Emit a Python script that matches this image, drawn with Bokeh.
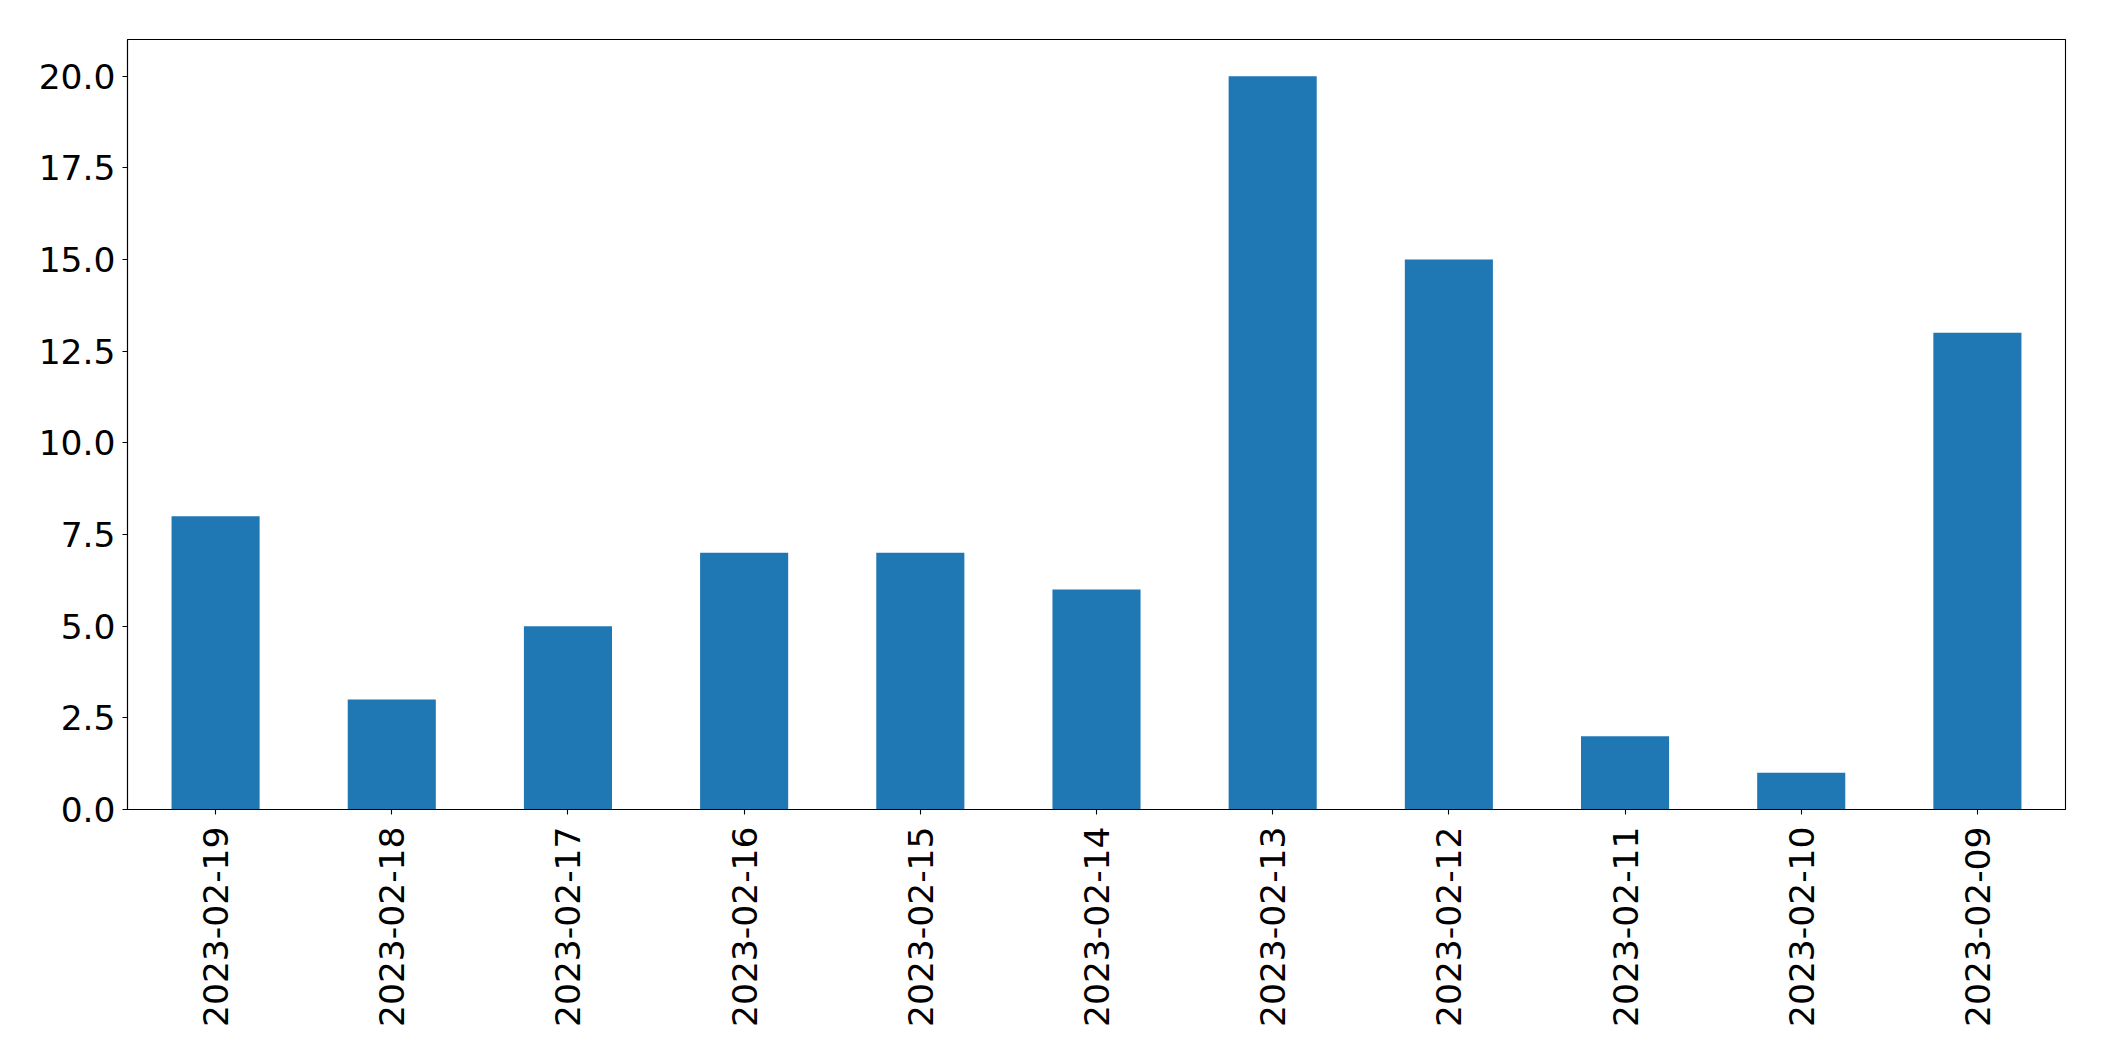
import math
from bokeh.plotting import figure
from bokeh.models import FixedTicker, NumeralTickFormatter, Range1d
from bokeh.embed import file_html
from bokeh.resources import INLINE

dates = ["2023-02-19", "2023-02-18", "2023-02-17", "2023-02-16", "2023-02-15",
         "2023-02-14", "2023-02-13", "2023-02-12", "2023-02-11", "2023-02-10",
         "2023-02-09"]
counts = [8, 3, 5, 7, 7, 6, 20, 15, 2, 1, 13]
y_ticks = [0, 2.5, 5, 7.5, 10, 12.5, 15, 17.5, 20]

p = figure(x_range=dates, y_range=Range1d(0, 21),
           frame_width=1938, frame_height=770,
           min_border_left=127, min_border_top=39, min_border_right=30,
           min_border_bottom=230,
           output_backend="svg", toolbar_location=None)
p.x_range.range_padding = 0

p.vbar(x=dates, top=counts, width=0.5, color="#1f77b4", line_color=None)

p.xgrid.visible = False
p.ygrid.visible = False
p.outline_line_color = "black"
p.outline_line_width = 1.1
p.outline_line_alpha = 1

for ax in (p.xaxis, p.yaxis):
    ax.axis_line_color = "black"
    ax.axis_line_width = 1.1
    ax.major_tick_line_color = "black"
    ax.major_tick_line_width = 1.1
    ax.major_tick_out = 5
    ax.major_tick_in = 0
    ax.minor_tick_line_color = None
    ax.major_label_text_font = "DejaVu Sans"
    ax.major_label_text_font_size = "34.5px"
    ax.major_label_text_color = "black"

p.yaxis.ticker = FixedTicker(ticks=y_ticks)
p.yaxis.formatter = NumeralTickFormatter(format="0.0")
p.yaxis.major_label_standoff = 7
p.xaxis.major_label_orientation = math.pi / 2
p.xaxis.major_label_standoff = 12

open("out.html", "w").write(file_html(p, INLINE))
